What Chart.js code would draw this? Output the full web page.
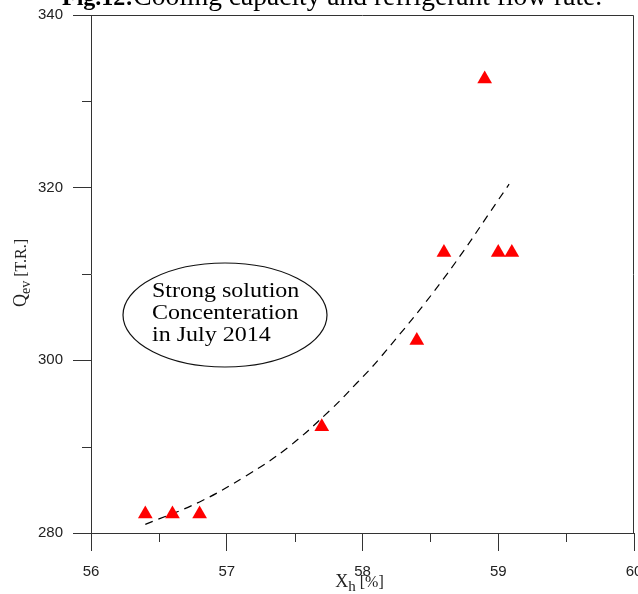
<!DOCTYPE html>
<html>
<head>
<meta charset="utf-8">
<script src="https://cdn.jsdelivr.net/npm/chart.js@4.4.1/dist/chart.umd.min.js"></script>
<style>
  html, body { margin: 0; padding: 0; background: #fff; }
</style>
</head>
<body>
<canvas id="chart" width="638" height="594"></canvas>
<script>
// measured points (X_h %, Q_ev T.R.)
const xh = [56.4, 56.6, 56.8, 57.7, 58.4, 58.6, 58.9, 59.0, 59.1];
const qev = [282.2, 282.2, 282.2, 292.3, 302.3, 312.5, 332.6, 312.5, 312.5];

// dashed trend curve
const fitX = [56.4, 56.8, 57.15, 57.45, 57.76, 57.96, 58.13, 58.59, 59.08];
const fitQ = [281.0, 283.6, 286.7, 289.9, 294.2, 297.4, 300.3, 309.3, 320.4];

// axes
const xMinorTicks = [56.5, 57.5, 58.5, 59.5];
const yMinorTicks = [290, 310, 330];

const titleBold = "Fig.12:";
const titleRest = "Cooling capacity and refrigerant flow rate.";
const noteLines = ["Strong solution", "Concenteration", "in July 2014"];

const SERIF = '"Liberation Serif", "Times New Roman", serif';
const SANS = '"Liberation Sans", Arial, sans-serif';
const AXIS_COLOR = "#333";

// draws a run of text pieces (for subscripts), centred on 0
function drawRun(ctx, parts) {
  let w = 0;
  parts.forEach(p => { ctx.font = p.f; w += ctx.measureText(p.t).width; });
  let px = -w / 2;
  parts.forEach(p => {
    ctx.font = p.f;
    ctx.fillText(p.t, px, p.dy);
    px += ctx.measureText(p.t).width;
  });
}

// extra drawing: frame, minor ticks, axis titles, note ellipse, title
const decorations = {
  id: "decorations",
  afterDraw(chart) {
    const { ctx, chartArea: a, scales } = chart;
    const x = scales.x, y = scales.y;
    ctx.save();

    // top + right frame
    ctx.strokeStyle = AXIS_COLOR;
    ctx.lineWidth = 1;
    ctx.beginPath();
    ctx.moveTo(Math.round(a.left) + 0.5, Math.round(a.top) + 0.5);
    ctx.lineTo(Math.round(a.right) - 0.5, Math.round(a.top) + 0.5);
    ctx.lineTo(Math.round(a.right) - 0.5, Math.round(a.bottom) + 0.5);
    ctx.stroke();

    // minor ticks
    ctx.beginPath();
    xMinorTicks.forEach(v => {
      const px = Math.round(x.getPixelForValue(v)) + 0.5;
      ctx.moveTo(px, a.bottom);
      ctx.lineTo(px, a.bottom + 9);
    });
    yMinorTicks.forEach(v => {
      const py = Math.round(y.getPixelForValue(v)) + 0.5;
      ctx.moveTo(a.left - 9, py);
      ctx.lineTo(a.left, py);
    });
    ctx.stroke();

    ctx.fillStyle = "#222";
    ctx.textBaseline = "alphabetic";
    ctx.textAlign = "left";

    // x axis title: X_h [%]
    ctx.save();
    ctx.translate((a.left + a.right) / 2 - 3, 587);
    drawRun(ctx, [
      { t: "X", f: "18px " + SERIF, dy: 0 },
      { t: "h", f: "15px " + SERIF, dy: 4 },
      { t: " [%]", f: "16px " + SERIF, dy: 0 },
    ]);
    ctx.restore();

    // y axis title: Q_ev [T.R.]
    ctx.save();
    ctx.translate(26, 273);
    ctx.rotate(-Math.PI / 2);
    drawRun(ctx, [
      { t: "Q", f: "18px " + SERIF, dy: 0 },
      { t: "ev", f: "14px " + SERIF, dy: 4 },
      { t: " [T.R.]", f: "16px " + SERIF, dy: 0 },
    ]);
    ctx.restore();

    // note ellipse
    const cx = 225, cy = 315;
    ctx.strokeStyle = "#111";
    ctx.lineWidth = 1.2;
    ctx.beginPath();
    ctx.ellipse(cx, cy, 102, 52, 0, 0, Math.PI * 2);
    ctx.stroke();
    ctx.fillStyle = "#000";
    ctx.textBaseline = "middle";
    ctx.save();
    ctx.translate(cx - 73, cy);
    ctx.scale(1.2, 1);
    ctx.font = "20px " + SERIF;
    noteLines.forEach((line, i) => {
      ctx.fillText(line, 0, -23 + i * 22);
    });
    ctx.restore();

    // title, cut off at the top
    ctx.textBaseline = "alphabetic";
    ctx.font = "bold 24px " + SERIF;
    ctx.fillText(titleBold, 62, 5);
    const bw = ctx.measureText(titleBold).width;
    ctx.font = "27.5px " + SERIF;
    ctx.fillText(titleRest, 62 + bw, 5);

    ctx.restore();
  },
};

new Chart(document.getElementById("chart"), {
  type: "scatter",
  data: {
    datasets: [
      {
        label: "Q_ev",
        data: xh.map((v, i) => ({ x: v, y: qev[i] })),
        pointStyle: "triangle",
        pointRadius: 8.5,
        pointHoverRadius: 8.5,
        backgroundColor: "#ff0000",
        borderColor: "#ff0000",
        borderWidth: 0,
      },
      {
        label: "fit",
        data: fitX.map((v, i) => ({ x: v, y: fitQ[i] })),
        showLine: true,
        borderColor: "#000",
        borderWidth: 1.2,
        borderDash: [8, 6],
        tension: 0.4,
        pointRadius: 0,
        pointHoverRadius: 0,
      },
    ],
  },
  options: {
    responsive: false,
    animation: false,
    devicePixelRatio: 1,
    layout: { autoPadding: false, padding: { top: 15, right: 4, left: 0, bottom: 0 } },
    plugins: {
      legend: { display: false },
      tooltip: { enabled: false },
      title: { display: false },
    },
    scales: {
      x: {
        type: "linear",
        min: 56,
        max: 60,
        border: { color: AXIS_COLOR, width: 1 },
        grid: { drawOnChartArea: false, tickLength: 18, color: AXIS_COLOR },
        ticks: {
          stepSize: 1,
          padding: 12,
          maxRotation: 0,
          color: "#222",
          font: { family: SANS, size: 15 },
        },
        afterFit: (s) => { s.height = 61; s.paddingLeft = 0; s.paddingRight = 0; },
      },
      y: {
        min: 280,
        max: 340,
        border: { color: AXIS_COLOR, width: 1 },
        grid: { drawOnChartArea: false, tickLength: 18, color: AXIS_COLOR },
        ticks: {
          stepSize: 20,
          padding: 10,
          color: "#222",
          font: { family: SANS, size: 15 },
        },
        afterFit: (s) => { s.width = 91; s.paddingTop = 0; s.paddingBottom = 0; },
      },
    },
  },
  plugins: [decorations],
});
</script>
</body>
</html>
